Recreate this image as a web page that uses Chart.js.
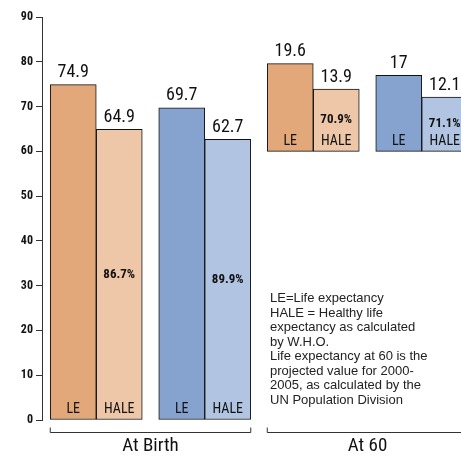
<!DOCTYPE html>
<html><head><meta charset="utf-8">
<script src="https://cdn.jsdelivr.net/npm/chart.js@4.4.0/dist/chart.umd.min.js"></script>
<style>
html,body{margin:0;padding:0;overflow:hidden;background:#fff;width:461px;height:458px}
#wrap{position:relative;width:476px;height:458px}
#note{position:absolute;left:270px;top:291px;font:13px "Liberation Sans",Arial,sans-serif;line-height:14.5px;color:#222;width:200px}
</style></head><body>
<div id="wrap"><canvas id="c" width="476" height="458"></canvas>
<div id="note">LE=Life expectancy<br>HALE = Healthy life<br>expectancy as calculated<br>by W.H.O.<br>Life expectancy at 60 is the<br>projected value for 2000-<br>2005, as calculated by the<br>UN Population Division</div></div>
<script>
const groups = ['Birth F', 'Birth M', '60 F', '60 M'];
const leValues = [74.9, 69.7, 19.6, 17];
const haleValues = [64.9, 62.7, 13.9, 12.1];
const bases = [0, 0, 60, 60];
const halePercent = ['86.7%', '89.9%', '70.9%', '71.1%'];
const yTicks = [0, 10, 20, 30, 40, 50, 60, 70, 80, 90];
const sections = ['At Birth', 'At 60'];

const leColors = ['#E3A87A', '#86A3CF', '#E3A87A', '#86A3CF'];
const haleColors = ['#EEC7A8', '#B1C4E1', '#EEC7A8', '#B1C4E1'];
const FONT = '"Liberation Sans Narrow","Roboto Condensed","Liberation Sans",sans-serif';

const labelPlugin = {
  id: 'labels',
  afterDatasetsDraw(chart) {
    const ctx = chart.ctx;
    ctx.save();
    ctx.fillStyle = '#111';
    ctx.textAlign = 'center';
    chart.data.datasets.forEach((ds, di) => {
      chart.getDatasetMeta(di).data.forEach((bar, i) => {
        ctx.font = '18px ' + FONT;
        ctx.textBaseline = 'bottom';
        ctx.fillText(String(ds.shown[i]), bar.x, bar.y - 3);
        ctx.font = '14px ' + FONT;
        ctx.fillText(di === 0 ? 'LE' : 'HALE', bar.x, bar.base - 3);
        if (di === 1) {
          ctx.font = 'bold 13px ' + FONT;
          ctx.textBaseline = 'middle';
          ctx.fillText(halePercent[i], bar.x, (bar.y + bar.base) / 2);
        }
      });
    });
    // section brackets
    const m0 = chart.getDatasetMeta(0).data, m1 = chart.getDatasetMeta(1).data;
    ctx.strokeStyle = '#333';
    ctx.lineWidth = 1;
    [[0, 1], [2, 3]].forEach((g, s) => {
      const x1 = m0[g[0]].x - m0[g[0]].width / 2;
      const x2 = m1[g[1]].x + m1[g[1]].width / 2;
      const y = 432.5;
      ctx.beginPath();
      ctx.moveTo(x1, y - 5); ctx.lineTo(x1, y); ctx.lineTo(x2, y); ctx.lineTo(x2, y - 5);
      ctx.stroke();
      ctx.font = '19px ' + FONT;
      ctx.textBaseline = 'top';
      ctx.fillText(sections[s], (x1 + x2) / 2, 437);
    });
    ctx.restore();
  }
};

new Chart(document.getElementById('c'), {
  type: 'bar',
  data: {
    labels: groups,
    datasets: [
      { data: leValues.map((v, i) => [bases[i], bases[i] + v]), shown: leValues,
        backgroundColor: leColors, borderColor: '#111', borderWidth: 1, borderSkipped: false, barThickness: 46 },
      { data: haleValues.map((v, i) => [bases[i], bases[i] + v]), shown: haleValues,
        backgroundColor: haleColors, borderColor: '#111', borderWidth: 1, borderSkipped: false, barThickness: 46 }
    ]
  },
  options: {
    responsive: false, animation: false,
    layout: { padding: { top: 17, bottom: 38, left: 0, right: 0 } },
    plugins: { legend: { display: false }, tooltip: { enabled: false } },
    scales: {
      x: { display: false, offset: true, grid: { display: false } },
      y: {
        min: 0, max: 90,
        afterFit: s => { s.width = 42; },
        afterBuildTicks: s => { s.ticks = yTicks.map(v => ({ value: v })); },
        border: { display: true, color: '#333' },
        grid: { drawOnChartArea: false, color: '#333', tickLength: 6 },
        ticks: { color: '#111', font: { family: FONT, size: 12, weight: 'bold' }, padding: 3 }
      }
    }
  },
  plugins: [labelPlugin]
});
</script></body></html>
